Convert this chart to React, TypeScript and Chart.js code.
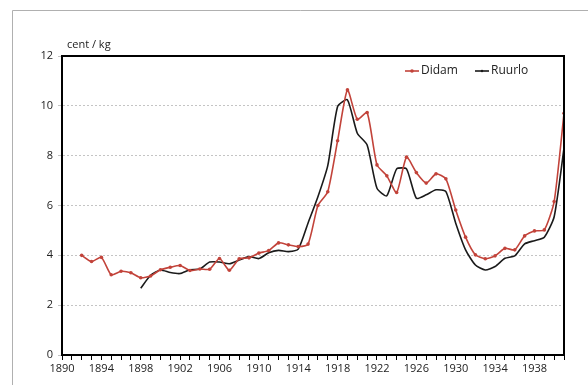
import React, { useEffect, useRef } from "react";
import { Chart, registerables } from "chart.js";

Chart.register(...registerables);

const didamYears = [1892,1893,1894,1895,1896,1897,1898,1899,1900,1901,1902,1903,1904,1905,1906,1907,1908,1909,1910,1911,1912,1913,1914,1915,1916,1917,1918,1919,1920,1921,1922,1923,1924,1925,1926,1927,1928,1929,1930,1931,1932,1933,1934,1935,1936,1937,1938,1939,1940,1941];
const didamValues = [4.0,3.75,3.92,3.22,3.36,3.3,3.1,3.17,3.42,3.52,3.59,3.39,3.45,3.44,3.87,3.4,3.86,3.9,4.09,4.19,4.5,4.42,4.35,4.45,6.0,6.55,8.6,10.64,9.46,9.73,7.63,7.19,6.52,7.94,7.32,6.9,7.27,7.07,5.82,4.73,4.02,3.86,3.98,4.28,4.22,4.78,4.98,5.02,6.16,9.7];

const ruurloYears = [1898,1899,1900,1901,1902,1903,1904,1905,1906,1907,1908,1909,1910,1911,1912,1913,1914,1915,1916,1917,1918,1919,1920,1921,1922,1923,1924,1925,1926,1927,1928,1929,1930,1931,1932,1933,1934,1935,1936,1937,1938,1939,1940,1941];
const ruurloValues = [2.68,3.2,3.41,3.31,3.27,3.42,3.45,3.73,3.73,3.66,3.81,3.95,3.87,4.1,4.2,4.15,4.25,5.3,6.35,7.6,9.97,10.24,8.9,8.43,6.69,6.39,7.47,7.47,6.29,6.43,6.63,6.56,5.29,4.22,3.61,3.41,3.55,3.88,3.98,4.46,4.59,4.73,5.55,8.3];

const seriesNames = ["Didam", "Ruurlo"];
const yAxisLabel = "cent / kg";
const xMin = 1890;
const xMax = 1941;
const yMin = 0;
const yMax = 12;

const RED = "#c2433a";
const BLACK = "#1a1a1a";
const FONT = "'Open Sans', 'Liberation Sans', sans-serif";

const decorPlugin = {
  id: "decor",
  beforeDraw(chart: any) {
    const ctx = chart.ctx;
    ctx.save();
    ctx.fillStyle = "#ffffff";
    ctx.fillRect(0, 0, chart.width, chart.height);
    ctx.strokeStyle = "#b0b0b0";
    ctx.lineWidth = 1;
    ctx.beginPath();
    ctx.moveTo(12.5, chart.height);
    ctx.lineTo(12.5, 10.5);
    ctx.lineTo(chart.width, 10.5);
    ctx.stroke();
    ctx.restore();
  },
  afterDraw(chart: any) {
    const ctx = chart.ctx;
    const a = chart.chartArea;
    ctx.save();
    ctx.strokeStyle = "#000";
    ctx.lineWidth = 2;
    ctx.beginPath();
    ctx.moveTo(a.left, a.top);
    ctx.lineTo(a.right, a.top);
    ctx.lineTo(a.right, a.bottom);
    ctx.stroke();

    // axis title
    ctx.fillStyle = "#222";
    ctx.font = `11px ${FONT}`;
    ctx.textBaseline = "middle";
    ctx.textAlign = "left";
    ctx.fillText(yAxisLabel, a.left + 5, a.top - 11);

    // legend
    const items = chart.data.datasets.map((d: any) => ({ label: d.label, color: d.borderColor, r: d.pointRadius }));
    const starts = [405, 475];
    const ly = a.top + 15;
    ctx.font = `12px ${FONT}`;
    items.forEach((it: any, i: number) => {
      const x0 = starts[i];
      ctx.strokeStyle = it.color;
      ctx.lineWidth = 1.6;
      ctx.beginPath();
      ctx.moveTo(x0, ly);
      ctx.lineTo(x0 + 14, ly);
      ctx.stroke();
      ctx.fillStyle = it.color;
      ctx.beginPath();
      ctx.arc(x0 + 7, ly, Math.max(1.2, it.r), 0, Math.PI * 2);
      ctx.fill();
      ctx.fillStyle = "#222";
      ctx.fillText(it.label, x0 + 16, ly);
    });
    ctx.restore();
  },
};

export default function App() {
  const ref = useRef<HTMLCanvasElement | null>(null);
  useEffect(() => {
    if (!ref.current) return;
    const chart = new Chart(ref.current, {
      type: "line",
      data: {
        datasets: [
          {
            label: seriesNames[0],
            data: didamYears.map((x, i) => ({ x, y: didamValues[i] })),
            borderColor: RED,
            backgroundColor: RED,
            borderWidth: 1.6,
            pointRadius: 1.8,
            pointBorderWidth: 0,
            tension: 0.2,
          },
          {
            label: seriesNames[1],
            data: ruurloYears.map((x, i) => ({ x, y: ruurloValues[i] })),
            borderColor: BLACK,
            backgroundColor: BLACK,
            borderWidth: 1.6,
            pointRadius: 0,
            tension: 0.2,
          },
        ],
      },
      options: {
        animation: false,
        responsive: false,
        maintainAspectRatio: false,
        layout: { padding: { left: 0, top: 56, right: 24, bottom: 0 } },
        plugins: { legend: { display: false }, tooltip: { enabled: false } },
        scales: {
          x: {
            type: "linear",
            min: xMin,
            max: xMax,
            afterFit: (s: any) => { s.height = 30; },
            afterBuildTicks: (s: any) => {
              const t = [];
              for (let v = xMin; v <= xMax; v++) t.push({ value: v });
              s.ticks = t;
            },
            ticks: {
              autoSkip: false,
              maxRotation: 0,
              padding: 2,
              color: "#222",
              font: { family: FONT, size: 11 },
              callback: (v: any) => ((Number(v) - xMin) % 4 === 0 && Number(v) <= 1938 ? String(v) : ""),
            },
            grid: { drawOnChartArea: false, drawTicks: true, tickLength: 5, color: "#000", lineWidth: 1 },
            border: { display: true, color: "#000", width: 2 },
          },
          y: {
            min: yMin,
            max: yMax,
            afterFit: (s: any) => { s.width = 62; },
            ticks: {
              stepSize: 2,
              padding: 5,
              color: "#222",
              font: { family: FONT, size: 11 },
            },
            grid: { color: "#c4c4c4", lineWidth: 1, drawTicks: true, tickLength: 4 },
            border: { display: true, color: "#000", width: 2, dash: [2, 2] },
          },
        },
      },
      plugins: [decorPlugin],
    });
    return () => chart.destroy();
  }, []);
  return (
    <div style={{ position: "fixed", left: 0, top: 0, width: 588, height: 385, background: "#fff" }}>
      <canvas ref={ref} width={588} height={385} style={{ display: "block" }} />
    </div>
  );
}
